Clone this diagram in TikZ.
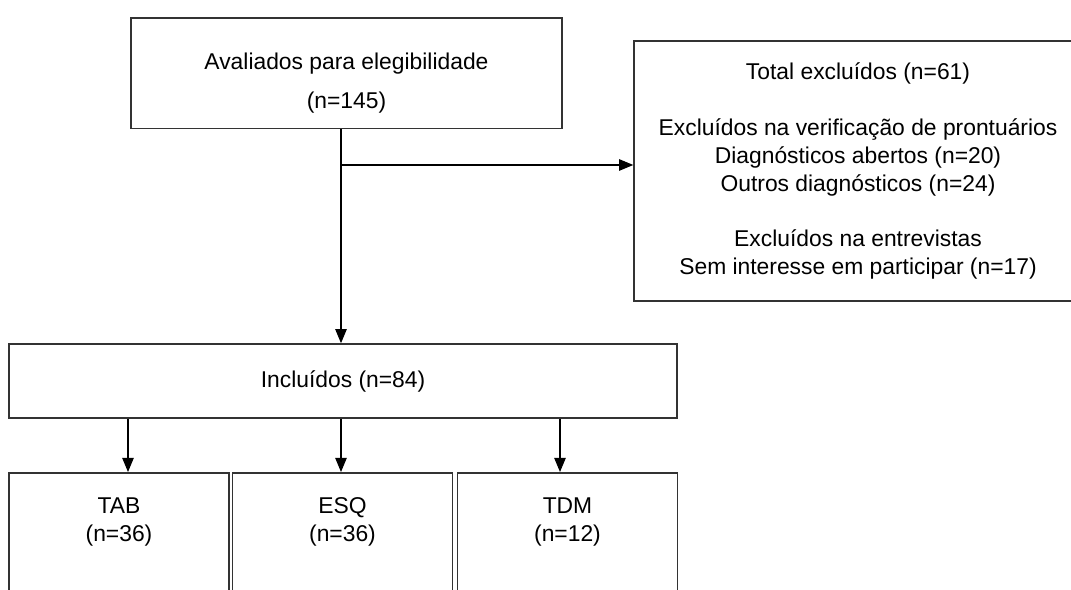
\documentclass[tikz,border=0pt]{standalone}
\usepackage{fontspec}
\setmainfont{Liberation Sans}
\usetikzlibrary{arrows.meta, positioning, calc}

\begin{document}
\begin{tikzpicture}[x=0.02cm, y=-0.02cm,
    box/.style={draw=black!80, line width=0.9pt, inner sep=0pt,
      font=\fontsize{13}{15.9}\selectfont},
    topbox/.style={box, anchor=north, text height=29.4pt, text depth=33.5pt},
    groupbox/.style={box, anchor=north, minimum width=4.4cm, inner ysep=11pt,
      text height=12pt, text depth=80pt},
    flow/.style={-{Triangle[length=8pt, width=6.5pt]}, line width=0.6pt}]
  \useasboundingbox (0,0) rectangle (1071,590);
  \clip (0,0) rectangle (1071,590);
  % upper part
  \node[topbox, minimum width=8.62cm] (eleg) at (346.5,17)
    {\begin{tabular}[t]{@{}c@{}}Avaliados para elegibilidade\\[6.2pt] (n=145)\end{tabular}};
  \node[box, align=center, minimum width=8.96cm, minimum height=5.2cm] (excl) at (858,171)
    {Total excluídos (n=61)\\ \\
     Excluídos na verificação de prontuários\\
     Diagnósticos abertos (n=20)\\
     Outros diagnósticos (n=24)\\ \\
     Excluídos na entrevistas\\
     Sem interesse em participar (n=17)};
  \node[box, minimum width=13.36cm, minimum height=1.48cm] (incl) at (343,381)
    {Incluídos (n=84)};
  \coordinate (spine) at (341,165);
  \draw[flow] (spine |- eleg.south) -- (spine |- incl.north);
  \draw[flow] (spine) -- (spine -| excl.west);
  % groups, cut off by the page bottom
  \foreach \name/\cx/\ax/\lbl/\n in
    {tab/119/128/TAB/36, esq/342.5/341/ESQ/36, tdm/567.5/560/TDM/12} {
    \node[groupbox] (\name) at (\cx,472)
      {\begin{tabular}[t]{@{}c@{}}\lbl\\(n=\n)\end{tabular}};
    \draw[flow] (\ax,0 |- incl.south) -- (\ax,0 |- \name.north);
  }
\end{tikzpicture}
\end{document}
